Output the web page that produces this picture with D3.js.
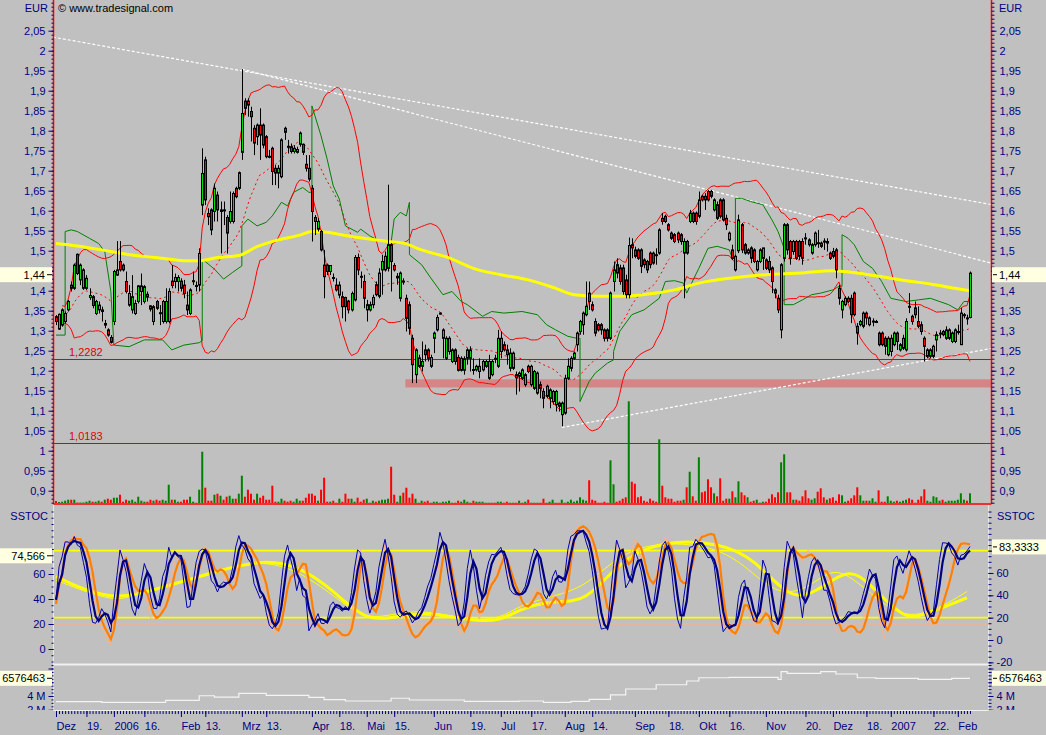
<!DOCTYPE html>
<html>
<head>
<meta charset="utf-8">
<script src="https://cdn.jsdelivr.net/npm/d3@7"></script>
<style>
body { margin: 0; background: #c0c0c0; }
svg { display: block; }
</style>
</head>
<body>
<script>
// trading calendar (Xetra), Dec 5 2005 .. Feb 7 2007
var firstDay = '2005-12-05';
var lastDay = '2007-02-07';
var holidays = ['2005-12-26', '2006-04-14', '2006-04-17', '2006-05-01', '2006-12-25', '2006-12-26', '2007-01-01'];

var tickDates = ['2005-12-05', '2005-12-19', '2006-01-02', '2006-01-16', '2006-02-01', '2006-02-13', '2006-03-01', '2006-03-13',
    '2006-04-03', '2006-04-18', '2006-05-02', '2006-05-15', '2006-06-01', '2006-06-19', '2006-07-03', '2006-07-17',
    '2006-08-01', '2006-08-14', '2006-09-01', '2006-09-18', '2006-10-02', '2006-10-16', '2006-11-01', '2006-11-20',
    '2006-12-01', '2006-12-18', '2007-01-02', '2007-01-22', '2007-02-01'];
var tickTexts = ['Dez', '19.', '2006', '16.', 'Feb', '13.', 'Mrz', '13.', 'Apr', '18.', 'Mai', '15.', 'Jun', '19.', 'Jul', '17.',
    'Aug', '14.', 'Sep', '18.', 'Okt', '16.', 'Nov', '20.', 'Dez', '18.', '2007', '22.', 'Feb'];

var open = [
1.335,1.304,1.314,1.323,1.352,1.414,1.406,1.491,1.427,1.406,
1.406,1.383,1.385,1.343,1.352,1.352,1.314,1.302,1.283,1.323,
1.439,1.473,1.464,1.423,1.364,1.352,1.343,1.373,1.398,1.373,
1.391,1.362,1.323,1.373,1.345,1.323,1.323,1.323,1.424,1.423,
1.423,1.424,1.414,1.364,1.343,1.423,1.413,1.414,1.614,1.727,
1.593,1.602,1.598,1.639,1.598,1.602,1.583,1.573,1.573,1.656,
1.656,1.746,1.874,1.874,1.848,1.806,1.785,1.814,1.814,1.785,
1.736,1.756,1.706,1.694,1.685,1.806,1.761,1.760,1.748,1.746,
1.766,1.766,1.716,1.706,1.656,1.583,1.554,1.548,1.464,1.464,
1.448,1.433,1.414,1.389,1.385,1.383,1.374,1.352,1.377,1.483,
1.436,1.423,1.352,1.352,1.365,1.415,1.386,1.452,1.452,1.456,
1.515,1.463,1.432,1.381,1.424,1.381,1.365,1.281,1.190,1.211,
1.211,1.252,1.252,1.211,1.281,1.302,1.344,1.281,1.231,1.248,
1.223,1.252,1.233,1.201,1.201,1.231,1.231,1.203,1.202,1.198,
1.202,1.211,1.181,1.190,1.231,1.211,1.248,1.265,1.252,1.206,
1.206,1.190,1.186,1.181,1.165,1.211,1.165,1.156,1.144,1.165,
1.148,1.136,1.131,1.123,1.115,1.119,1.090,1.094,1.181,1.206,
1.231,1.265,1.298,1.315,1.340,1.394,1.365,1.323,1.315,1.315,
1.302,1.302,1.281,1.423,1.465,1.457,1.457,1.427,1.390,1.515,
1.502,1.502,1.502,1.477,1.473,1.494,1.494,1.490,1.494,1.581,
1.586,1.565,1.544,1.540,1.544,1.540,1.494,1.523,1.573,1.594,
1.594,1.586,1.636,1.636,1.648,1.648,1.602,1.615,1.627,1.627,
1.581,1.527,1.502,1.452,1.500,1.565,1.515,1.494,1.507,1.502,
1.452,1.473,1.481,1.477,1.473,1.457,1.402,1.381,1.302,1.481,
1.565,1.523,1.498,1.523,1.523,1.523,1.532,1.527,1.494,1.515,
1.520,1.519,1.524,1.519,1.494,1.498,1.502,1.406,1.352,1.365,
1.381,1.381,1.394,1.311,1.315,1.311,1.344,1.315,1.323,1.323,
1.294,1.294,1.281,1.240,1.248,1.265,1.294,1.252,1.256,1.252,
1.361,1.336,1.357,1.323,1.315,1.281,1.236,1.236,1.236,1.277,
1.294,1.298,1.281,1.281,1.273,1.273,1.298,1.265,1.340,1.332,
1.333];

var high = [
1.339,1.343,1.356,1.348,1.377,1.423,1.468,1.493,1.468,1.456,
1.439,1.406,1.389,1.377,1.373,1.360,1.327,1.306,1.289,1.452,
1.524,1.524,1.468,1.448,1.414,1.439,1.377,1.414,1.443,1.414,
1.398,1.364,1.364,1.377,1.364,1.377,1.406,1.406,1.464,1.443,
1.439,1.431,1.427,1.398,1.406,1.448,1.423,1.506,1.756,1.735,
1.606,1.606,1.668,1.648,1.623,1.623,1.589,1.648,1.648,1.660,
1.698,1.954,1.881,1.881,1.860,1.814,1.818,1.856,1.818,1.789,
1.752,1.760,1.714,1.714,1.781,1.810,1.777,1.768,1.764,1.760,
1.798,1.768,1.739,1.739,1.664,1.589,1.581,1.552,1.502,1.468,
1.464,1.443,1.431,1.423,1.398,1.385,1.377,1.398,1.489,1.493,
1.448,1.440,1.377,1.373,1.390,1.423,1.456,1.490,1.498,1.665,
1.519,1.469,1.444,1.448,1.431,1.390,1.373,1.290,1.256,1.240,
1.273,1.265,1.256,1.240,1.298,1.340,1.346,1.306,1.286,1.286,
1.256,1.256,1.240,1.236,1.236,1.256,1.261,1.231,1.215,1.231,
1.227,1.227,1.240,1.227,1.240,1.302,1.298,1.273,1.265,1.256,
1.248,1.198,1.198,1.206,1.194,1.215,1.215,1.202,1.198,1.173,
1.156,1.165,1.156,1.152,1.152,1.123,1.123,1.190,1.231,1.236,
1.248,1.298,1.327,1.348,1.423,1.423,1.373,1.331,1.319,1.319,
1.306,1.306,1.398,1.473,1.481,1.465,1.465,1.440,1.533,1.531,
1.510,1.506,1.506,1.481,1.477,1.498,1.498,1.506,1.556,1.594,
1.590,1.569,1.548,1.544,1.548,1.544,1.531,1.527,1.602,1.598,
1.598,1.648,1.640,1.644,1.652,1.652,1.631,1.623,1.631,1.631,
1.590,1.548,1.515,1.490,1.590,1.569,1.519,1.506,1.511,1.506,
1.477,1.506,1.507,1.481,1.486,1.461,1.406,1.390,1.469,1.569,
1.569,1.527,1.527,1.527,1.527,1.531,1.544,1.531,1.519,1.548,
1.552,1.523,1.531,1.531,1.498,1.507,1.507,1.415,1.377,1.386,
1.386,1.390,1.398,1.319,1.327,1.348,1.348,1.336,1.331,1.327,
1.298,1.298,1.286,1.286,1.290,1.298,1.298,1.269,1.290,1.331,
1.394,1.340,1.373,1.361,1.323,1.286,1.256,1.256,1.265,1.298,
1.302,1.302,1.311,1.306,1.298,1.306,1.315,1.357,1.344,1.340,
1.448];

var low = [
1.314,1.302,1.310,1.318,1.348,1.398,1.402,1.439,1.414,1.402,
1.402,1.377,1.356,1.339,1.343,1.323,1.306,1.285,1.268,1.314,
1.437,1.448,1.448,1.393,1.360,1.343,1.339,1.368,1.364,1.368,
1.373,1.348,1.314,1.352,1.314,1.318,1.318,1.318,1.406,1.406,
1.398,1.398,1.381,1.339,1.339,1.414,1.398,1.398,1.589,1.614,
1.564,1.539,1.573,1.573,1.493,1.564,1.493,1.568,1.568,1.631,
1.652,1.727,1.839,1.835,1.773,1.739,1.764,1.727,1.756,1.731,
1.731,1.664,1.664,1.656,1.681,1.777,1.743,1.743,1.743,1.743,
1.760,1.739,1.698,1.673,1.523,1.539,1.548,1.498,1.381,1.439,
1.439,1.423,1.398,1.381,1.331,1.323,1.343,1.348,1.373,1.439,
1.406,1.356,1.323,1.348,1.356,1.386,1.381,1.390,1.448,1.448,
1.398,1.448,1.415,1.373,1.415,1.298,1.290,1.169,1.169,1.207,
1.198,1.223,1.223,1.207,1.244,1.298,1.340,1.231,1.227,1.240,
1.219,1.215,1.198,1.198,1.190,1.215,1.198,1.190,1.198,1.181,
1.198,1.207,1.177,1.186,1.219,1.207,1.231,1.248,1.215,1.198,
1.202,1.140,1.148,1.177,1.160,1.194,1.160,1.152,1.140,1.131,
1.106,1.131,1.106,1.115,1.098,1.098,1.061,1.090,1.177,1.198,
1.227,1.248,1.290,1.290,1.336,1.352,1.348,1.286,1.298,1.290,
1.273,1.273,1.277,1.398,1.431,1.415,1.390,1.381,1.381,1.481,
1.481,1.477,1.444,1.456,1.444,1.456,1.465,1.465,1.490,1.565,
1.569,1.548,1.527,1.519,1.519,1.515,1.381,1.490,1.569,1.569,
1.565,1.581,1.623,1.602,1.623,1.631,1.598,1.577,1.581,1.573,
1.552,1.523,1.477,1.448,1.494,1.494,1.490,1.490,1.469,1.469,
1.448,1.469,1.452,1.452,1.444,1.394,1.381,1.344,1.281,1.473,
1.490,1.465,1.490,1.477,1.477,1.465,1.515,1.510,1.490,1.510,
1.507,1.507,1.502,1.498,1.477,1.481,1.431,1.365,1.331,1.361,
1.369,1.319,1.336,1.265,1.311,1.306,1.315,1.311,1.311,1.319,
1.261,1.261,1.240,1.236,1.236,1.261,1.252,1.248,1.252,1.248,
1.344,1.315,1.331,1.306,1.290,1.223,1.231,1.231,1.231,1.248,
1.281,1.286,1.277,1.277,1.269,1.269,1.290,1.265,1.331,1.315,
1.331];

var close = [
1.323,1.341,1.352,1.343,1.373,1.406,1.464,1.443,1.464,1.452,
1.431,1.388,1.363,1.373,1.364,1.348,1.318,1.289,1.271,1.448,
1.452,1.452,1.452,1.398,1.393,1.385,1.368,1.412,1.412,1.410,
1.384,1.354,1.360,1.356,1.343,1.373,1.373,1.398,1.413,1.433,
1.433,1.406,1.393,1.352,1.402,1.425,1.412,1.493,1.693,1.627,
1.585,1.552,1.656,1.602,1.602,1.600,1.544,1.598,1.643,1.635,
1.695,1.843,1.856,1.864,1.835,1.769,1.814,1.789,1.764,1.735,
1.735,1.698,1.694,1.706,1.777,1.796,1.760,1.748,1.756,1.753,
1.794,1.746,1.706,1.679,1.598,1.573,1.573,1.502,1.435,1.448,
1.463,1.431,1.402,1.414,1.360,1.360,1.352,1.393,1.483,1.452,
1.435,1.381,1.365,1.365,1.383,1.390,1.444,1.473,1.486,1.515,
1.473,1.452,1.436,1.444,1.423,1.331,1.306,1.215,1.252,1.232,
1.223,1.240,1.231,1.233,1.294,1.333,1.344,1.302,1.281,1.281,
1.252,1.223,1.201,1.231,1.230,1.252,1.252,1.202,1.211,1.211,
1.223,1.223,1.223,1.223,1.229,1.281,1.281,1.252,1.240,1.244,
1.244,1.182,1.194,1.202,1.190,1.198,1.211,1.198,1.194,1.156,
1.131,1.161,1.152,1.148,1.148,1.111,1.119,1.181,1.211,1.231,
1.244,1.294,1.323,1.344,1.361,1.373,1.352,1.294,1.302,1.302,
1.281,1.281,1.394,1.452,1.444,1.423,1.398,1.390,1.513,1.507,
1.486,1.481,1.461,1.465,1.452,1.465,1.469,1.489,1.552,1.573,
1.573,1.552,1.531,1.523,1.527,1.523,1.523,1.494,1.594,1.573,
1.573,1.627,1.627,1.627,1.627,1.636,1.627,1.581,1.586,1.577,
1.565,1.544,1.481,1.486,1.577,1.502,1.494,1.502,1.481,1.473,
1.473,1.502,1.507,1.456,1.452,1.423,1.394,1.352,1.465,1.565,
1.502,1.481,1.523,1.481,1.486,1.481,1.531,1.515,1.515,1.544,
1.519,1.511,1.523,1.523,1.481,1.486,1.452,1.381,1.373,1.381,
1.373,1.340,1.340,1.294,1.323,1.344,1.332,1.332,1.324,1.323,
1.265,1.265,1.261,1.281,1.281,1.294,1.273,1.265,1.281,1.323,
1.360,1.323,1.340,1.311,1.298,1.261,1.252,1.252,1.261,1.290,
1.294,1.290,1.302,1.302,1.294,1.302,1.298,1.344,1.340,1.331,
1.444];

var volume = [
2,1,1.3,2.3,3.3,3.3,3.3,0.5,0.5,0.5,
1.3,2.3,1.3,1.3,2.3,1.3,3.3,4.3,3.3,5.3,
5.3,8.3,1.3,3.3,2.3,3.3,1.3,6.3,2.3,1.3,
1.3,3.3,2.3,3.3,2.3,3.3,2.3,18.3,3.3,3.3,
1.3,1.3,3.3,3.3,6.3,1.3,0.3,13.3,51.3,15.3,
2.3,2.3,8.3,9.3,7.3,3.3,6.3,7.3,4.3,4.3,
9.3,27.3,6.3,13.3,9.3,3.3,9.3,5.3,7.3,3.3,
3.3,17.3,1.3,1.3,4.3,2.3,1.3,2.3,1.3,4.3,
2.3,2.3,5.3,9.3,9.3,7.3,2.3,13.3,25.3,1.3,
1.3,2.3,0.3,4.3,1.3,9.3,4.3,4.3,1.3,5.3,
1.3,3.3,4.3,0.3,2.3,1.3,2.3,3.3,3.3,4.3,
36.3,8.3,1.3,7.3,10.3,15.3,5.3,9.3,4.3,0.3,
2.3,1.3,2.3,0.3,1.3,1.3,0.3,1.3,1.3,2.3,
0.3,0.3,2.3,1.3,3.3,1.3,0.3,2.3,1.3,1.3,
1.3,0.3,0.3,0.3,0.3,1.3,1.3,0.3,1.3,0.3,
0.3,0.3,2.3,0.3,1.3,3.3,0.3,0.3,0.3,0.3,
4.3,0.3,1.3,3.3,0.3,0.3,3.3,0.3,1.3,3.3,
1.3,2.3,5.7,3.3,2.3,22.7,3.3,2.3,0.3,0.3,
1.3,0.3,42.7,18.7,1.3,2.3,4.3,5.7,101.7,21.3,
19.3,5.7,6.7,2.3,1.3,4.3,2.3,1.3,63.7,17.3,
5.7,4.3,4.3,1.3,2.3,2.3,3.3,15.7,31.3,6.7,
2.3,45.7,10.7,11.7,23.7,15.7,9.7,6.7,24.7,2.3,
4.3,4.3,11.7,5.7,21.7,10.7,7.7,5.7,1.3,2.3,
3.3,0.3,1.3,1.3,4.3,8.7,5.7,10.7,40.7,48.7,
10.7,10.7,3.3,3.3,2.3,6.7,12.7,4.7,3.3,4.7,
11.3,14.7,5.7,3.3,4.7,5.7,2.3,8.7,7.7,1.3,
2.3,4.7,7.7,15.7,7.7,2.3,2.3,2.3,4.7,1.3,
12.7,1.3,1.3,6.7,2.3,1.3,2.3,1.3,2.3,3.3,
4.7,3.3,0.3,3.3,6.7,13.7,2.3,1.3,6.7,5.7,
2.3,3.3,1.3,2.3,2.3,2.3,3.3,9.7,3.3,2.3,
9.7];

// long moving average (yellow), read at sample bars
var maDay = [0, 7, 18, 25, 35, 42, 47, 53, 60, 66, 73, 80, 84, 89, 95, 101, 109, 114, 120, 129, 137, 146, 155, 164, 170,
    179, 188, 197, 203, 211, 222, 233, 244, 255, 261, 270, 279, 287, 295, 300];
var maValue = [1.518, 1.512, 1.498, 1.489, 1.481, 1.475, 1.475, 1.483, 1.488, 1.510, 1.527, 1.539, 1.548, 1.546, 1.538,
    1.531, 1.523, 1.519, 1.502, 1.482, 1.456, 1.440, 1.427, 1.406, 1.390, 1.386, 1.387, 1.394, 1.402, 1.419, 1.432,
    1.440, 1.444, 1.450, 1.446, 1.436, 1.425, 1.417, 1.406, 1.400];

// green stop line, read at sample bars (repeated bar = vertical jump)
var stopDay = [
    0, 3, 3, 5, 7, 11, 14, 16, 18, 19, 24, 29, 35, 38, 42, 47, 48, 48, 52, 55,
    58, 61, 61, 63, 66, 69, 71, 74, 76, 78, 81, 83, 84, 84, 86, 87, 89, 91, 93, 95,
    99, 100, 103, 106, 110, 111, 113, 115, 116, 116, 120, 123, 127, 130, 133, 135, 140, 143, 147, 153,
    158, 161, 164, 168, 171, 172, 172, 175, 177, 181, 183, 183, 185, 189, 193, 198, 200, 203, 206, 207,
    211, 214, 217, 221, 222, 223, 223, 225, 228, 232, 235, 237, 239, 239, 242, 245, 248, 251, 255, 257,
    258, 258, 260, 262, 265, 268, 271, 274, 279, 283, 287, 293, 296, 298, 300];
var stopValue = [
    1.289, 1.289, 1.548, 1.552, 1.548, 1.531, 1.518, 1.498, 1.398, 1.264, 1.260, 1.277, 1.277, 1.252, 1.264, 1.270, 1.275, 1.479, 1.454, 1.429,
    1.446, 1.462, 1.562, 1.579, 1.562, 1.571, 1.587, 1.621, 1.612, 1.646, 1.658, 1.646, 1.646, 1.862, 1.812, 1.787, 1.729, 1.662, 1.629, 1.562,
    1.546, 1.554, 1.537, 1.525, 1.521, 1.579, 1.596, 1.587, 1.621, 1.490, 1.465, 1.432, 1.390, 1.398, 1.373, 1.365, 1.336, 1.348, 1.344, 1.348,
    1.340, 1.315, 1.302, 1.286, 1.281, 1.281, 1.123, 1.173, 1.194, 1.219, 1.227, 1.248, 1.298, 1.340, 1.352, 1.381, 1.423, 1.425, 1.419, 1.394,
    1.456, 1.506, 1.511, 1.502, 1.481, 1.481, 1.631, 1.631, 1.623, 1.615, 1.577, 1.548, 1.506, 1.365, 1.365, 1.377, 1.390, 1.394, 1.402, 1.411,
    1.411, 1.540, 1.531, 1.515, 1.473, 1.456, 1.423, 1.381, 1.373, 1.377, 1.381, 1.365, 1.352, 1.373, 1.373];

// slow oscillator lines in the SSTOC panel (yellow), read at sample bars
var yellowDay = [0, 18, 36, 58, 69, 80, 91, 102, 113, 124, 135, 146, 152, 163, 174, 185, 199, 218, 229, 240, 248, 260,
    267, 278, 284, 299];
var yellowValue = [58, 37, 50, 66, 71, 66, 47, 21, 27, 29, 23, 22, 32, 39, 36.5, 71, 87, 85, 72.5, 42, 42, 66, 52.5,
    24.5, 26, 41];
var yellowFastDay = [0, 18, 25, 36, 47, 58, 69, 80, 91, 102, 113, 124, 135, 146, 152, 163, 174, 185, 198, 218, 229, 238,
    248, 256, 267, 278, 289, 299];
var yellowFastValue = [55, 38, 42, 52, 56, 67, 70, 62, 43, 22, 30, 30, 23, 24, 35, 42, 50, 76, 86, 82, 60, 42, 50, 68,
    45, 24, 31, 46];

// lower panel line (millions), steps at bar index
var cumDay = [0, 15, 36, 47, 52, 60, 69, 83, 88, 95, 110, 116, 134, 152, 160, 169, 175, 182, 187, 197, 207, 211, 221,
    237, 238, 240, 251, 256, 263, 269, 283, 294, 300];
var cumValue = [3.17, 3.08, 3.37, 4.04, 3.85, 4.39, 4.10, 3.81, 3.46, 3.27, 3.67, 3.42, 3.23, 3.27, 3.08, 3.23, 3.52,
    4.15, 5.02, 5.64, 6.18, 6.66, 6.72, 6.43, 7.54, 7.30, 7.54, 7.20, 6.66, 6.58, 6.43, 6.58, 6.58];

// trend lines [bar, price] -> [bar, price]
var trendFrom = [[-1, 2.034], [61, 1.954], [166, 1.058]];
var trendTo = [[308, 1.614], [308, 1.467], [308, 1.257]];

var levelValues = [1.2282, 1.0183];
var zoneValues = [1.158, 1.1785];
var zoneStart = 115;

var lastPrice = 1.44;
var lastStochLeft = 74.566;
var lastStochRight = 83.3333;
var lastCum = 6576463;

var priceTicks = d3.range(0.9, 2.051, 0.05);
var stochLeftTicks = [0, 20, 40, 60, 80];
var stochRightTicks = [-20, 0, 20, 40, 60, 80];
var cumTicks = [2, 4, 6, 8];

// ---- calendar
var parse = d3.utcParse('%Y-%m-%d');
var fmtDay = d3.utcFormat('%Y-%m-%d');
var days = [];
d3.utcDay.range(parse(firstDay), d3.utcDay.offset(parse(lastDay), 1)).forEach(function(d) {
    var wd = d.getUTCDay();
    if (wd > 0 && wd < 6 && holidays.indexOf(fmtDay(d)) < 0) days.push(fmtDay(d));
});
var n = close.length;
var tickIdx = tickDates.map(function(d) { return days.indexOf(d); });

var de = d3.formatLocale({decimal: ',', thousands: '.', grouping: [3], currency: ['', ' EUR']});
var priceFmt = de.format('.2~f');

var navy = '#000080';
var font = '"Liberation Sans", Arial, sans-serif';
var fs = 11;
var L = 53.5, R = 991.5;

var x = d3.scaleLinear().domain([0, n - 1]).range([56, 970]);
var y = d3.scaleLinear().domain([2, 1]).range([50.7, 450.7]);
var yVol = d3.scaleLinear().domain([0, 100]).range([503, 403]);
var yStL = d3.scaleLinear().domain([0, 100]).range([649, 524]);
var yStR = d3.scaleLinear().domain([0, 100]).range([640, 528.3]);
var yCum = d3.scaleLinear().domain([4, lastCum / 1e6]).range([696, 678.3]);

// labels hidden behind the value boxes
function hiddenBy(sc, v, cy) { return Math.abs(sc(v) - cy) < 9; }

// ---- indicators
function sma(a, p) {
    return a.map(function(v, i) { return d3.mean(a.slice(Math.max(0, i - p + 1), i + 1)); });
}
function bands(p, k) {
    var out = {mid: [], up: [], lo: []};
    close.forEach(function(c, i) {
        var w = close.slice(Math.max(0, i - p + 1), i + 1);
        var m = d3.mean(w);
        var s = Math.sqrt(d3.mean(w, function(v) { return (v - m) * (v - m); }));
        out.mid.push(m); out.up.push(m + k * s); out.lo.push(m - k * s);
    });
    return out;
}
function stochK(p) {
    return close.map(function(c, i) {
        var s = Math.max(0, i - p + 1);
        var hh = d3.max(high.slice(s, i + 1)), ll = d3.min(low.slice(s, i + 1));
        return hh > ll ? 100 * (c - ll) / (hh - ll) : 50;
    });
}
var bbRed = bands(20, 2);
var blueThin = sma(stochK(5), 3);
var blueThick = sma(blueThin, 3);
var peach = sma(stochK(10), 3);
var orange = sma(peach, 3);

// ---- svg
var svg = d3.select('body').append('svg').attr('width', 1046).attr('height', 735)
    .style('font-family', font);
svg.append('rect').attr('width', 1046).attr('height', 735).attr('fill', '#c0c0c0');

var defs = svg.append('defs');
defs.append('clipPath').attr('id', 'cp-price').append('rect').attr('x', L).attr('y', 0).attr('width', R - L).attr('height', 503);
defs.append('clipPath').attr('id', 'cp-stoch').append('rect').attr('x', L).attr('y', 504).attr('width', R - L).attr('height', 160);
defs.append('clipPath').attr('id', 'cp-cum').append('rect').attr('x', 0).attr('y', 665).attr('width', 1046).attr('height', 45);

var price = svg.append('g').attr('clip-path', 'url(#cp-price)');

// resistance zone
price.append('rect')
    .attr('x', x(zoneStart) - 1).attr('width', R - x(zoneStart) + 1)
    .attr('y', y(zoneValues[1])).attr('height', y(zoneValues[0]) - y(zoneValues[1]))
    .attr('fill', '#d48686');

// level lines
price.selectAll('.level').data(levelValues).enter().append('line')
    .attr('x1', L).attr('x2', R)
    .attr('y1', function(d) { return Math.round(y(d)) + 0.5; })
    .attr('y2', function(d) { return Math.round(y(d)) + 0.5; })
    .attr('stroke', '#e00000').attr('stroke-width', 1);
price.selectAll('.levelText').data(levelValues).enter().append('text')
    .attr('x', 69).attr('y', function(d) { return y(d) - 3; })
    .attr('fill', '#e00000').attr('font-size', fs)
    .text(function(d) { return de.format('.4f')(d); });

// trend lines
price.selectAll('.trend').data(trendFrom).enter().append('line')
    .attr('x1', function(d) { return x(d[0]); }).attr('y1', function(d) { return y(d[1]); })
    .attr('x2', function(d, i) { return x(trendTo[i][0]); }).attr('y2', function(d, i) { return y(trendTo[i][1]); })
    .attr('stroke', '#ffffff').attr('stroke-width', 1.2).attr('stroke-dasharray', '3,2');

// volume
price.selectAll('.vol').data(volume).enter().append('rect')
    .attr('x', function(d, i) { return x(i) - 1; })
    .attr('width', 2)
    .attr('y', function(d) { return yVol(d); })
    .attr('height', function(d) { return Math.max(0.5, yVol(0) - yVol(d)); })
    .attr('fill', function(d, i) { return close[i] >= open[i] ? '#008000' : '#ff0000'; });

// bands
var bandLine = function(arr) {
    return d3.line().x(function(d, i) { return x(i + 2); }).y(function(d) { return y(d); })(arr.slice(2));
};
var stopLine = d3.line().x(function(d, i) { return x(stopDay[i]); }).y(function(d) { return y(d); });
price.append('path').attr('d', stopLine(stopValue)).attr('fill', 'none').attr('stroke', '#008000').attr('stroke-width', 1);
price.append('path').attr('d', bandLine(bbRed.up)).attr('fill', 'none').attr('stroke', '#ff0000').attr('stroke-width', 1);
price.append('path').attr('d', bandLine(bbRed.lo)).attr('fill', 'none').attr('stroke', '#ff0000').attr('stroke-width', 1);
price.append('path').attr('d', bandLine(bbRed.mid)).attr('fill', 'none').attr('stroke', '#ff0000')
    .attr('stroke-width', 1).attr('stroke-dasharray', '2,3');

// long average
var maLine = d3.line().curve(d3.curveMonotoneX)
    .x(function(d, i) { return x(maDay[i]); }).y(function(d) { return y(d); });
price.append('path').attr('d', maLine(maValue)).attr('fill', 'none').attr('stroke', '#ffff00').attr('stroke-width', 3);

// candles
var candle = price.selectAll('.candle').data(close).enter().append('g');
candle.append('line')
    .attr('x1', function(d, i) { return Math.round(x(i)) + 0.5; })
    .attr('x2', function(d, i) { return Math.round(x(i)) + 0.5; })
    .attr('y1', function(d, i) { return y(high[i]); })
    .attr('y2', function(d, i) { return y(low[i]); })
    .attr('stroke', '#000').attr('stroke-width', 1);
candle.append('rect')
    .attr('x', function(d, i) { return Math.round(x(i)) - 0.5; })
    .attr('width', 2)
    .attr('y', function(d, i) { return y(Math.max(open[i], d)); })
    .attr('height', function(d, i) { return Math.max(1, Math.abs(y(open[i]) - y(d))); })
    .attr('fill', function(d, i) { return d >= open[i] ? '#00e000' : '#ff0000'; })
    .attr('stroke', '#000').attr('stroke-width', 1);

// panel borders
svg.append('line').attr('x1', L).attr('x2', L).attr('y1', 0).attr('y2', 504).attr('stroke', '#ff0000').attr('stroke-width', 1.5);
svg.append('line').attr('x1', R).attr('x2', R).attr('y1', 0).attr('y2', 504).attr('stroke', '#ff0000').attr('stroke-width', 1.5);
svg.append('line').attr('x1', L).attr('x2', R).attr('y1', 504).attr('y2', 504).attr('stroke', '#ff0000').attr('stroke-width', 1.5);
svg.append('line').attr('x1', L).attr('x2', L).attr('y1', 505).attr('y2', 710).attr('stroke', '#e8e8e8').attr('stroke-width', 1);
svg.append('line').attr('x1', R - 3).attr('x2', R - 3).attr('y1', 505).attr('y2', 710).attr('stroke', '#e8e8e8').attr('stroke-width', 1);
svg.append('line').attr('x1', L).attr('x2', R - 3).attr('y1', 664.5).attr('y2', 664.5).attr('stroke', '#f0f0f0').attr('stroke-width', 2);
svg.append('line').attr('x1', L).attr('x2', R - 3).attr('y1', 710.5).attr('y2', 710.5).attr('stroke', '#f0f0f0').attr('stroke-width', 1);

// ---- stochastic panel
var st = svg.append('g').attr('clip-path', 'url(#cp-stoch)');
st.append('line').attr('x1', L).attr('x2', R).attr('y1', yStL(20)).attr('y2', yStL(20)).attr('stroke', '#ffb080').attr('stroke-width', 1);
[80, 20].forEach(function(v) {
    st.append('line').attr('x1', L).attr('x2', R).attr('y1', yStR(v)).attr('y2', yStR(v)).attr('stroke', '#ffff00').attr('stroke-width', 1.6);
});
function stLine(arr, sc) {
    return d3.line().x(function(d, i) { return x(i); }).y(function(d) { return sc(d); })(arr);
}
var slowLine = function(dayArr) {
    return d3.line().curve(d3.curveBasis)
        .x(function(d, i) { return x(dayArr[i]); }).y(function(d) { return yStL(d); });
};
st.append('path').attr('d', slowLine(yellowFastDay)(yellowFastValue)).attr('fill', 'none').attr('stroke', '#ffff00').attr('stroke-width', 1);
st.append('path').attr('d', slowLine(yellowDay)(yellowValue)).attr('fill', 'none').attr('stroke', '#ffff00').attr('stroke-width', 3);
st.append('path').attr('d', stLine(peach, yStL)).attr('fill', 'none').attr('stroke', '#ffb080').attr('stroke-width', 1);
st.append('path').attr('d', stLine(orange, yStL)).attr('fill', 'none').attr('stroke', '#ff8000').attr('stroke-width', 2.2);
st.append('path').attr('d', stLine(blueThin, yStR)).attr('fill', 'none').attr('stroke', '#0000b0').attr('stroke-width', 1);
st.append('path').attr('d', stLine(blueThick, yStR)).attr('fill', 'none').attr('stroke', '#000080').attr('stroke-width', 2.2);

// ---- lower panel
var cumLine = d3.line().curve(d3.curveStepAfter)
    .x(function(d, i) { return x(cumDay[i]); }).y(function(d) { return yCum(d); });
svg.append('path').attr('d', cumLine(cumValue)).attr('fill', 'none').attr('stroke', '#f4f4f4').attr('stroke-width', 1.2);

// ---- axes
function styleAxis(g) {
    g.select('.domain').remove();
    g.selectAll('line').attr('stroke', navy);
    g.selectAll('text').attr('fill', navy).attr('font-size', fs).attr('font-family', font);
}
function minor(g) {
    g.select('.domain').remove();
    g.selectAll('line').attr('stroke', navy);
}
var priceLabel = function(d) { return hiddenBy(y, d, y(lastPrice)) ? '' : priceFmt(d); };

// price axes
svg.append('g').attr('transform', 'translate(' + L + ',0)')
    .call(d3.axisLeft(y).tickValues(d3.range(0.87, 2.13, 0.01)).tickSize(2).tickFormat('')).call(minor);
svg.append('g').attr('transform', 'translate(' + L + ',0)')
    .call(d3.axisLeft(y).tickValues(priceTicks).tickSize(5).tickPadding(3).tickFormat(priceLabel)).call(styleAxis);
svg.append('g').attr('transform', 'translate(' + R + ',0)')
    .call(d3.axisRight(y).tickValues(d3.range(0.87, 2.13, 0.01)).tickSize(3).tickFormat('')).call(minor);
svg.append('g').attr('transform', 'translate(' + R + ',0)')
    .call(d3.axisRight(y).tickValues(priceTicks).tickSize(5).tickPadding(3).tickFormat(priceLabel)).call(styleAxis);

// stochastic axes
var stL = svg.append('g').attr('transform', 'translate(' + L + ',0)');
stL.append('g').call(d3.axisLeft(yStL).tickValues(d3.range(-10, 116, 5)).tickSize(2).tickFormat('')).call(minor);
stL.append('g').call(d3.axisLeft(yStL).tickValues(stochLeftTicks).tickSize(5).tickPadding(3)
    .tickFormat(function(d) { return hiddenBy(yStL, d, yStL(lastStochLeft)) ? '' : d; })).call(styleAxis);
stL.selectAll('.tick').filter(function(d) { return yStL(d) < 506 || yStL(d) > 662; }).remove();
var stR = svg.append('g').attr('transform', 'translate(' + (R - 3) + ',0)');
stR.append('g').call(d3.axisRight(yStR).tickValues(d3.range(-25, 121, 5)).tickSize(3).tickFormat('')).call(minor);
stR.append('g').call(d3.axisRight(yStR).tickValues(stochRightTicks).tickSize(5).tickPadding(3)
    .tickFormat(function(d) { return hiddenBy(yStR, d, yStR(lastStochRight)) ? '' : d; })).call(styleAxis);
stR.selectAll('.tick').filter(function(d) { return yStR(d) < 506 || yStR(d) > 666; }).remove();

// lower panel axes
var cumLabel = function(d) { return yCum(d) < 688 ? '' : d + ' M'; };
var cumL = svg.append('g').attr('clip-path', 'url(#cp-cum)');
cumL.append('g').attr('transform', 'translate(' + L + ',0)')
    .call(d3.axisLeft(yCum).tickValues(d3.range(1.5, 9, 0.5)).tickSize(2).tickFormat('')).call(minor);
cumL.append('g').attr('transform', 'translate(' + L + ',0)')
    .call(d3.axisLeft(yCum).tickValues(cumTicks).tickSize(5).tickPadding(3).tickFormat(cumLabel)).call(styleAxis);
cumL.append('g').attr('transform', 'translate(' + (R - 3) + ',0)')
    .call(d3.axisRight(yCum).tickValues(d3.range(1.5, 9, 0.5)).tickSize(3).tickFormat('')).call(minor);
cumL.append('g').attr('transform', 'translate(' + (R - 3) + ',0)')
    .call(d3.axisRight(yCum).tickValues(cumTicks).tickSize(5).tickPadding(3).tickFormat(cumLabel)).call(styleAxis);

// date axis
var dAx = svg.append('g').attr('transform', 'translate(0,711)');
dAx.append('g').call(d3.axisBottom(x).tickValues(d3.range(0, n)).tickSize(3).tickFormat('')).call(minor);
dAx.append('g').call(d3.axisBottom(x).tickValues(tickIdx).tickSize(6).tickPadding(5)
    .tickFormat(function(d, i) { return tickTexts[i]; })).call(styleAxis);
dAx.selectAll('.tick text').attr('text-anchor', 'start').attr('x', 0);

// ---- labels and value boxes
svg.append('text').attr('x', 48).attr('y', 12).attr('text-anchor', 'end').attr('fill', navy).attr('font-size', fs).text('EUR');
svg.append('text').attr('x', 999).attr('y', 12).attr('fill', navy).attr('font-size', fs).text('EUR');
svg.append('text').attr('x', 58).attr('y', 12).attr('fill', '#000').attr('font-size', fs).text('\u00a9 www.tradesignal.com');
svg.append('text').attr('x', 48).attr('y', 520).attr('text-anchor', 'end').attr('fill', navy).attr('font-size', fs).text('SSTOC');
svg.append('text').attr('x', 997).attr('y', 520).attr('fill', navy).attr('font-size', fs).text('SSTOC');

function valueBox(side, cy, label) {
    var g = svg.append('g');
    if (side === 'left') {
        g.append('rect').attr('x', 0).attr('y', cy - 7.5).attr('width', 52).attr('height', 15).attr('fill', '#ffffe1');
        g.append('line').attr('x1', 47).attr('x2', 52).attr('y1', cy).attr('y2', cy).attr('stroke', '#000');
        g.append('text').attr('x', 45).attr('y', cy + 4).attr('text-anchor', 'end').attr('font-size', fs).attr('fill', '#000').text(label);
    } else {
        g.append('rect').attr('x', 992).attr('y', cy - 7.5).attr('width', 54).attr('height', 15).attr('fill', '#ffffe1');
        g.append('line').attr('x1', 993).attr('x2', 997).attr('y1', cy).attr('y2', cy).attr('stroke', '#000');
        g.append('text').attr('x', 999).attr('y', cy + 4).attr('font-size', fs).attr('fill', '#000').text(label);
    }
}
valueBox('left', y(lastPrice), priceFmt(lastPrice));
valueBox('right', y(lastPrice), priceFmt(lastPrice));
valueBox('left', yStL(lastStochLeft), de.format('.3f')(lastStochLeft));
valueBox('right', yStR(lastStochRight), de.format('.4f')(lastStochRight));
valueBox('left', yCum(lastCum / 1e6), String(lastCum));
valueBox('right', yCum(lastCum / 1e6), String(lastCum));
</script>
</body>
</html>
